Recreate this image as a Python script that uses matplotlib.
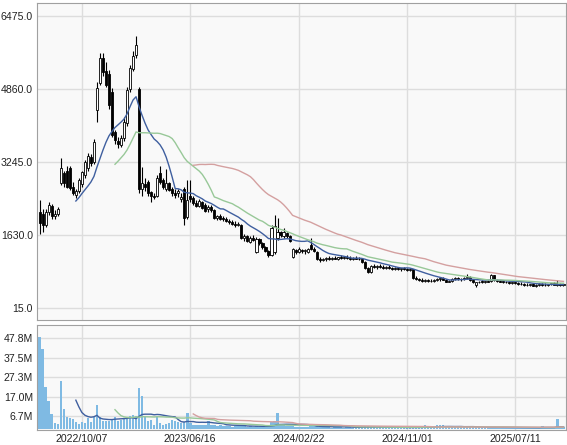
import numpy as np
import pandas as pd
import matplotlib
matplotlib.use("Agg")
import matplotlib.pyplot as plt
from matplotlib.ticker import FixedLocator, FuncFormatter

plt.rcParams["font.family"] = ["Liberation Sans", "DejaVu Sans"]

# weekly OHLC
opens = [2150, 2100, 1850, 2150, 2280, 2050, 2100, 2780, 3000, 3050,
         3120, 2700, 2520, 2600, 2750, 2960, 3120, 3350, 3250, 4400,
         4990, 5550, 5250, 5200, 4800, 3900, 3700, 3620, 3780, 4110,
         4850, 5300, 5620, 4860, 2650, 2750, 2800, 2580, 2500, 2500,
         3000, 2850, 2650, 2780, 2650, 2550, 2560, 2420, 2650, 2030,
         2500, 2450, 2340, 2280, 2350, 2300, 2200, 2260, 2180, 2000,
         2050, 2000, 1980, 1950, 1920, 1880, 1860, 1850, 1570, 1600,
         1480, 1560, 1260, 1540, 1450, 1360, 1280, 1190, 1250, 1560,
         1700, 1600, 1680, 1600, 1150, 1300, 1260, 1300, 1270, 1250,
         1400, 1330, 1260, 1110, 1080, 1100, 1120, 1100, 1130, 1110,
         1140, 1120, 1150, 1130, 1100, 1130, 1110, 1090, 1040, 900,
         820, 940, 920, 950, 930, 900, 930, 900, 880, 900,
         870, 890, 870, 860, 870, 690, 650, 640, 620, 630,
         610, 620, 640, 650, 670, 640, 600, 620, 660, 680,
         650, 660, 690, 700, 640, 520, 580, 600, 590, 610,
         620, 740, 640, 620, 600, 590, 580, 570, 580, 560,
         550, 540, 530, 520, 540, 510, 520, 550, 530, 520,
         540, 560, 530, 550, 520]
highs = [2400, 2200, 2200, 2350, 2320, 2180, 2250, 3330, 3050, 3150,
         3160, 2800, 2650, 2900, 3050, 3280, 3450, 3420, 3750, 5020,
         5650, 5650, 5450, 5280, 4880, 3950, 3800, 3850, 4250, 4900,
         5400, 5700, 6030, 4900, 3130, 2900, 2850, 2600, 2560, 2950,
         3150, 2900, 3100, 2800, 2700, 2650, 2650, 2550, 2700, 2850,
         2850, 2500, 2400, 2420, 2380, 2330, 2300, 2290, 2200, 2080,
         2100, 2060, 2020, 1990, 1960, 1930, 1920, 1870, 1650, 1640,
         1600, 1620, 1580, 1560, 1480, 1380, 1300, 1850, 2070, 2000,
         1720, 1780, 1700, 1620, 1350, 1320, 1360, 1330, 1310, 1340,
         1570, 1360, 1280, 1150, 1130, 1150, 1160, 1140, 1170, 1150,
         1180, 1160, 1190, 1160, 1150, 1160, 1140, 1110, 1060, 920,
         960, 980, 970, 990, 960, 950, 960, 930, 920, 930,
         910, 920, 900, 890, 880, 720, 690, 670, 660, 660,
         650, 660, 680, 690, 700, 660, 640, 680, 700, 710,
         680, 700, 760, 720, 650, 590, 620, 630, 620, 640,
         760, 750, 660, 640, 620, 610, 600, 600, 600, 590,
         580, 570, 560, 550, 560, 540, 560, 570, 560, 550,
         570, 580, 640, 570, 560]
lows = [1650, 1700, 1800, 2080, 1980, 1980, 2050, 2740, 2700, 2680,
        2620, 2520, 2440, 2560, 2700, 2900, 3050, 3150, 3200, 4130,
        4950, 5150, 4900, 4420, 3800, 3650, 3550, 3580, 3700, 4050,
        4800, 5250, 5550, 2550, 2500, 2600, 2500, 2350, 2420, 2460,
        2750, 2650, 2600, 2600, 2500, 2450, 2480, 2350, 1850, 1980,
        2350, 2300, 2240, 2250, 2200, 2130, 2150, 2150, 1980, 1960,
        1960, 1940, 1920, 1880, 1850, 1800, 1820, 1540, 1500, 1470,
        1450, 1500, 1230, 1420, 1330, 1260, 1150, 1170, 1200, 1520,
        1590, 1560, 1560, 1480, 1130, 1220, 1230, 1240, 1200, 1230,
        1300, 1250, 1080, 1040, 1050, 1060, 1080, 1070, 1090, 1080,
        1100, 1090, 1110, 1080, 1070, 1090, 1070, 1020, 880, 780,
        800, 890, 880, 900, 880, 870, 880, 860, 850, 860,
        840, 850, 840, 840, 660, 630, 610, 600, 590, 590,
        580, 600, 610, 620, 630, 580, 580, 600, 630, 640,
        620, 640, 660, 620, 560, 470, 560, 570, 560, 580,
        600, 620, 600, 580, 570, 560, 550, 550, 540, 530,
        520, 510, 500, 500, 500, 490, 500, 510, 500, 500,
        520, 520, 510, 510, 500]
closes = [1900, 1850, 2150, 2300, 2050, 2100, 2200, 3110, 2780, 2700,
          2660, 2570, 2600, 2850, 3020, 3240, 3380, 3220, 3690, 4880,
          5550, 5240, 4950, 4500, 3850, 3730, 3640, 3780, 4130, 4840,
          5320, 5600, 5830, 2650, 2780, 2700, 2560, 2500, 2480, 2900,
          2800, 2700, 2780, 2620, 2550, 2520, 2600, 2460, 2010, 2400,
          2420, 2340, 2280, 2380, 2230, 2160, 2260, 2180, 2010, 2050,
          1990, 1980, 1950, 1920, 1880, 1850, 1880, 1570, 1600, 1500,
          1560, 1530, 1540, 1450, 1360, 1280, 1180, 1780, 1820, 1700,
          1620, 1700, 1600, 1500, 1330, 1260, 1320, 1270, 1290, 1320,
          1330, 1280, 1100, 1080, 1100, 1120, 1100, 1130, 1110, 1140,
          1120, 1150, 1130, 1100, 1130, 1110, 1090, 1040, 900, 820,
          940, 920, 950, 930, 900, 930, 900, 880, 900, 870,
          890, 870, 860, 870, 690, 650, 640, 620, 630, 610,
          620, 640, 650, 670, 640, 600, 620, 660, 680, 650,
          660, 690, 700, 640, 580, 580, 600, 590, 610, 600,
          740, 640, 620, 600, 590, 580, 570, 580, 560, 550,
          540, 530, 520, 540, 510, 520, 550, 530, 520, 540,
          560, 530, 550, 520, 540]
# weekly volume, millions of shares
volumes = [48.5, 42.0, 22.0, 14.8, 7.8, 2.8, 2.6, 25.0, 10.2, 6.0,
           5.6, 5.0, 3.5, 2.5, 3.5, 3.2, 5.5, 3.3, 6.0, 12.5,
           6.0, 4.0, 4.0, 3.8, 4.8, 6.0, 4.0, 4.5, 5.5, 6.3,
           6.5, 7.0, 6.5, 21.4, 17.3, 6.0, 4.0, 4.5, 2.0, 6.3,
           3.0, 1.8, 2.5, 3.0, 4.8, 4.0, 3.5, 2.8, 3.5, 8.5,
           3.0, 2.2, 2.2, 1.8, 2.2, 2.0, 4.3, 1.8, 1.7, 1.5,
           1.7, 1.4, 1.2, 1.3, 1.1, 1.5, 1.2, 1.8, 1.2, 1.0,
           1.3, 1.0, 1.6, 1.1, 1.0, 1.2, 1.5, 3.5, 4.0, 8.3,
           2.5, 2.0, 1.4, 1.2, 1.3, 1.0, 0.9, 0.8, 0.8, 0.9,
           1.5, 2.0, 1.3, 1.0, 0.8, 0.7, 0.8, 0.6, 0.7, 0.9,
           0.7, 0.6, 0.8, 0.7, 0.6, 0.7, 0.8, 1.0, 1.6, 1.2,
           0.8, 0.7, 0.6, 0.7, 0.6, 0.5, 0.6, 0.7, 0.6, 0.5,
           0.6, 0.5, 0.6, 0.7, 1.2, 0.8, 0.6, 0.7, 2.0, 0.9,
           0.8, 0.7, 2.0, 2.0, 1.8, 0.9, 0.8, 0.7, 0.9, 0.8,
           0.7, 0.8, 1.0, 0.8, 0.9, 1.0, 0.7, 0.6, 0.7, 0.6,
           1.0, 0.8, 0.6, 0.5, 0.6, 0.5, 0.6, 0.5, 0.6, 0.5,
           0.6, 0.5, 0.5, 0.6, 0.5, 0.6, 0.5, 1.5, 0.6, 0.5,
           0.6, 0.7, 5.0, 0.8, 0.7]

price_ticks = [15.0, 1630.0, 3245.0, 4860.0, 6475.0]
vol_ticks = [6.7, 17.0, 27.3, 37.5, 47.8]
date_pos = [14, 50, 86, 122, 158]
date_labels = ["2022/10/07", "2023/06/16", "2024/02/22", "2024/11/01", "2025/07/11"]

df = pd.DataFrame({"open": opens, "high": highs, "low": lows,
                   "close": closes, "volume": volumes})
x = np.arange(len(df))
ma_colors = {13: "#3f5f9f", 26: "#98c898", 52: "#d4a0a0"}

fig = plt.figure(figsize=(5.67, 4.45), dpi=100)
ax1 = fig.add_axes([0.0653, 0.2809, 0.933, 0.7124])
ax2 = fig.add_axes([0.0653, 0.0337, 0.933, 0.2360])

for ax in (ax1, ax2):
    ax.set_facecolor("#f9f9f9")
    ax.grid(True, color="#dddddd", lw=1)
    ax.set_axisbelow(True)
    for s in ax.spines.values():
        s.set_color("#a0a0a0")
    ax.tick_params(length=0, labelsize=7.6, colors="#222222", pad=3)
    ax.set_xlim(-0.9, 174.85)
    ax.xaxis.set_major_locator(FixedLocator(date_pos))

# candles
up = df.close >= df.open
body_lo = np.minimum(df.open, df.close)
body_h = np.maximum((df.close - df.open).abs(), 12)
ax1.vlines(x, df.low, df.high, color="black", lw=0.8, zorder=2)
ax1.bar(x, body_h, bottom=body_lo, width=0.7,
        color=np.where(up, "white", "black"), edgecolor="black", lw=0.6, zorder=3)
for w, c in ma_colors.items():
    ax1.plot(x, df.close.rolling(w).mean(), color=c, lw=1, zorder=4)
ax1.set_ylim(-250, 6763)
ax1.yaxis.set_major_locator(FixedLocator(price_ticks))
ax1.yaxis.set_major_formatter(FuncFormatter(lambda v, p: f"{v:.1f}"))
ax1.set_xticklabels([])

# volume
ax2.bar(x, df.volume, width=0.85, color="#7fbae3", zorder=2)
for w, c in ma_colors.items():
    ax2.plot(x, df.volume.rolling(w).mean(), color=c, lw=1, zorder=3)
ax2.set_ylim(-0.7, 54.8)
ax2.yaxis.set_major_locator(FixedLocator(vol_ticks))
ax2.yaxis.set_major_formatter(FuncFormatter(lambda v, p: f"{v:.1f}M"))
ax2.set_xticklabels(date_labels)

fig.savefig("out.png", dpi=100)
